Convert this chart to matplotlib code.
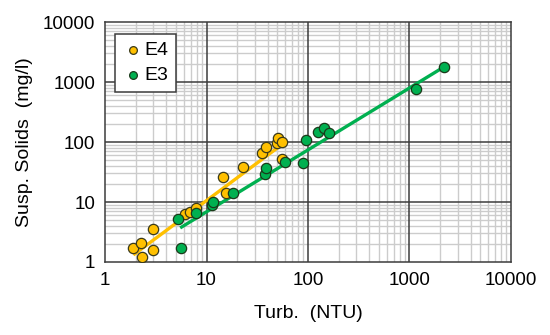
import matplotlib
matplotlib.use("Agg")
import matplotlib.pyplot as plt
from matplotlib.ticker import LogLocator, FixedLocator, NullFormatter

plt.rcParams['font.family'] = ['Liberation Sans', 'DejaVu Sans']

# E4 data (Turbidity NTU, Suspended solids mg/l)
e4_turb = [1.9, 2.26, 2.3, 2.95, 2.95, 6.1, 6.9, 7.85, 14.4, 15.6, 23.1, 35.0, 38.6, 49, 51, 55, 55]
e4_ss = [1.69, 2.1, 1.2, 1.58, 3.55, 6.2, 6.9, 7.85, 25.8, 14.3, 37.9, 64.6, 81.5, 95, 115, 101, 51.5]
# E3 data
e3_turb = [5.57, 5.27, 7.88, 11.2, 11.7, 18.4, 37.8, 38.6, 59.3, 89.9, 95.6, 126, 144, 161, 1159, 2203]
e3_ss = [1.69, 5.14, 6.47, 8.9, 10.1, 14.3, 29.3, 36.5, 47, 45.2, 108, 145, 173, 143, 755, 1800]

# Fitted trend lines (endpoints)
e4_fit_x = [1.9, 53]
e4_fit_y = [1.31, 86]
e3_fit_x = [5.5, 2200]
e3_fit_y = [3.7, 1800]

x_ticks = [1, 10, 100, 1000, 10000]
y_ticks = [1, 10, 100, 1000, 10000]

c_e4 = '#FFC000'
c_e3 = '#00B050'

fig = plt.figure(figsize=(5.5, 3.35), dpi=100)
ax = fig.add_axes([0.191, 0.218, 0.738, 0.716])
ax.set_xscale('log')
ax.set_yscale('log')
ax.set_xlim(1, 10000)
ax.set_ylim(1, 10000)

ax.xaxis.set_major_locator(FixedLocator(x_ticks))
ax.yaxis.set_major_locator(FixedLocator(y_ticks))
ax.set_xticklabels([str(v) for v in x_ticks])
ax.set_yticklabels([str(v) for v in y_ticks])
ax.xaxis.set_minor_locator(LogLocator(base=10, subs=range(2, 10)))
ax.yaxis.set_minor_locator(LogLocator(base=10, subs=range(2, 10)))
ax.xaxis.set_minor_formatter(NullFormatter())
ax.yaxis.set_minor_formatter(NullFormatter())
ax.set_axisbelow(True)
ax.tick_params(which='both', length=0, labelsize=13.5, pad=7, colors='#000000')

# grid lines drawn explicitly so majors sit cleanly above minors
minor_color = '#cccccc'
major_color = '#3c3c3c'
for d in x_ticks[:-1]:
    for k in range(2, 10):
        ax.axvline(d * k, color=minor_color, linewidth=1.0, zorder=0.4)
for d in y_ticks[:-1]:
    for k in range(2, 10):
        ax.axhline(d * k, color=minor_color, linewidth=1.0, zorder=0.4)
for v in x_ticks[1:-1]:
    ax.axvline(v, color=major_color, linewidth=1.1, zorder=0.6)
for v in y_ticks[1:-1]:
    ax.axhline(v, color=major_color, linewidth=1.1, zorder=0.6)

for s in ax.spines.values():
    s.set_color('#3c3c3c')
    s.set_linewidth(1.1)

ax.plot(e4_fit_x, e4_fit_y, color=c_e4, linewidth=2.4, zorder=3, solid_capstyle='butt')
ax.plot(e3_fit_x, e3_fit_y, color=c_e3, linewidth=2.4, zorder=3, solid_capstyle='butt')
ax.scatter(e4_turb, e4_ss, s=55, color=c_e4, edgecolor='#3a3a1a', linewidth=0.9, zorder=4, label='E4')
ax.scatter(e3_turb, e3_ss, s=55, color=c_e3, edgecolor='#1a3a1a', linewidth=0.9, zorder=4, label='E3')

leg = ax.legend(loc='upper left', bbox_to_anchor=(0.025, 0.95), fontsize=14, frameon=True,
                fancybox=False, edgecolor='#3c3c3c', framealpha=1, handletextpad=0.1,
                markerscale=0.75, borderpad=0.4, labelspacing=0.35, handlelength=1.0,
                borderaxespad=0)
leg.get_frame().set_linewidth(1.1)

ax.set_xlabel('Turb.  (NTU)', fontsize=14, labelpad=12)
ax.set_ylabel('Susp. Solids  (mg/l)', fontsize=14, labelpad=7)

fig.savefig('out.png', dpi=100)
